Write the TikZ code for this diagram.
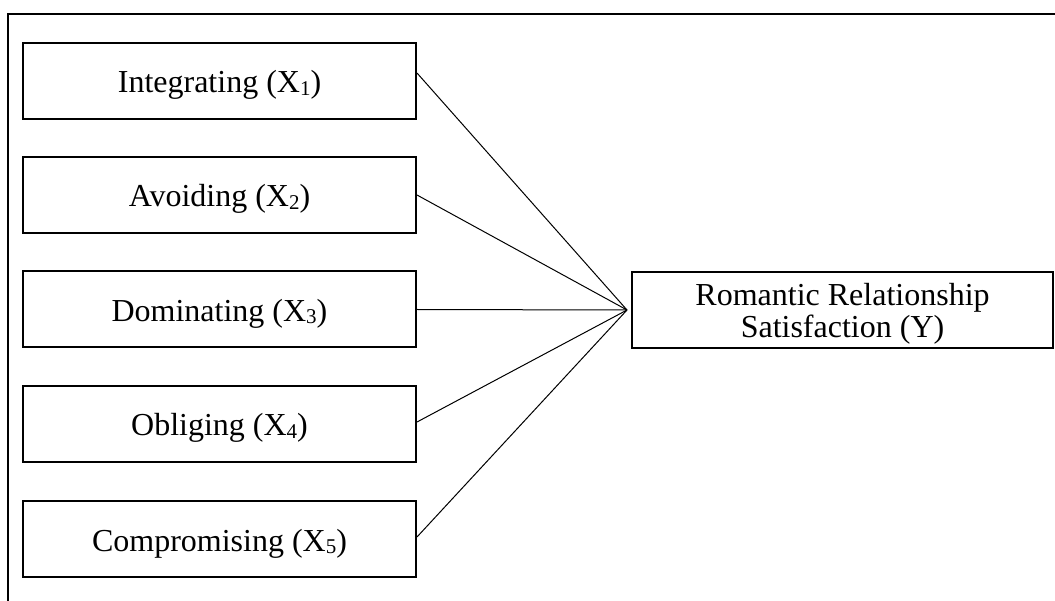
\documentclass[tikz,border=0pt]{standalone}
\usepackage{fontspec}
\setmainfont{Liberation Serif}
\newcommand\sbx[1]{\raisebox{-2.5pt}{\fontsize{21}{21}\selectfont #1}}
\newcommand\lowtxt[2]{\raisebox{-#1pt}[0pt][0pt]{#2}}
\begin{document}
\begin{tikzpicture}[x=1pt,y=-1pt,
  box/.style={draw, line width=2pt, rectangle, inner sep=0pt,
    minimum width=393pt, minimum height=76pt,
    font=\fontsize{32}{32}\selectfont},
  outbox/.style={draw, line width=2pt, rectangle, inner sep=0pt,
    minimum width=421pt, minimum height=76pt, align=center,
    font=\fontsize{32}{32}\selectfont},
  link/.style={line width=1pt}]
\useasboundingbox (0,0) rectangle (1055,601);
\draw[line width=2pt] (1056,14) -- (8,14) -- (8,602);
\node[box] (b1) at (219.5,81) {\lowtxt{12}{Integrating (X\sbx{1})}};
\node[box] (b2) at (219.5,195) {\lowtxt{12}{Avoiding (X\sbx{2})}};
\node[box] (b3) at (219.5,309.5) {\lowtxt{12}{Dominating (X\sbx{3})}};
\node[box] (b4) at (219.5,424) {\lowtxt{12}{Obliging (X\sbx{4})}};
\node[box] (b5) at (219.5,539) {\lowtxt{12}{Compromising (X\sbx{5})}};
\node[outbox] (y) at (842.5,310) {\lowtxt{12}{Romantic Relationship}\\\lowtxt{12}{Satisfaction (Y)}};
\coordinate (c) at ([xshift=-4pt]y.west);
\draw[link] ([yshift=8pt]b1.east) -- (c);
\draw[link] (b2.east) -- (c);
\draw[link] (b3.east) -- (c);
\draw[link] ([yshift=2pt]b4.east) -- (c);
\draw[link] ([yshift=2pt]b5.east) -- (c);
\end{tikzpicture}
\end{document}
